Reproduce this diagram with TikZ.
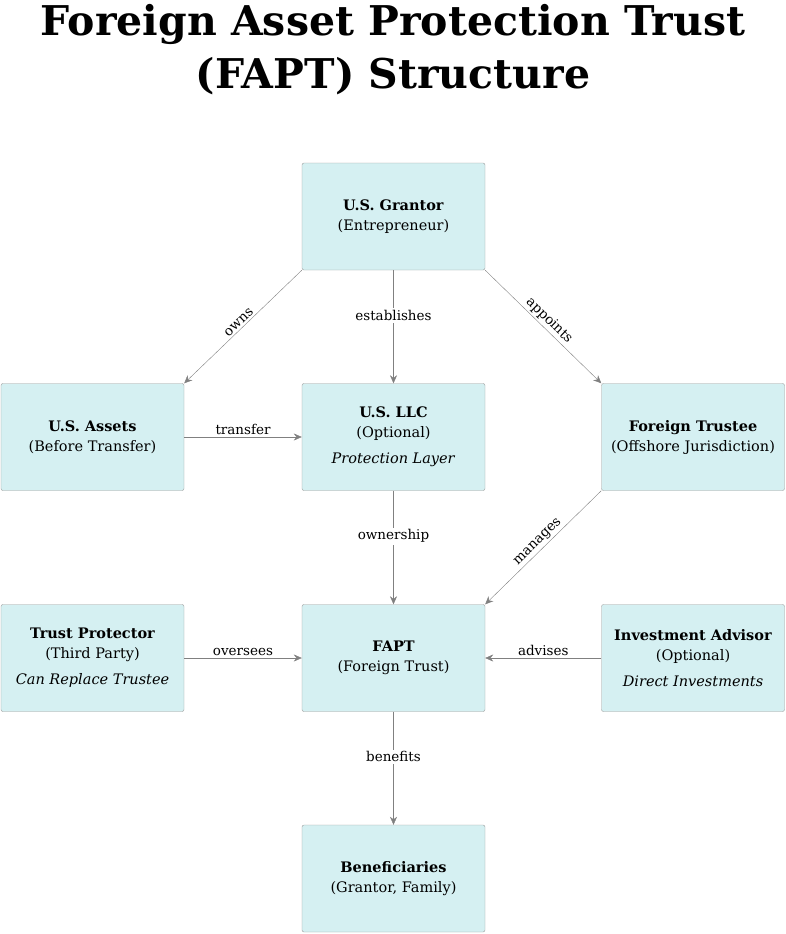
\documentclass[tikz,border=0pt]{standalone}
\usepackage{fontspec}
\setmainfont{DejaVu Serif}
\usetikzlibrary{positioning, arrows.meta}
\definecolor{boxfill}{HTML}{D5F0F2}
\definecolor{boxdraw}{HTML}{9A9A9A}
\definecolor{arrowgray}{HTML}{808080}
\tikzset{
	% entities
	entity/.style={
		draw=boxdraw,
		fill=boxfill,
		rounded corners=2pt,
		minimum width=183pt,
		minimum height=107pt,
		align=center,
		font=\fontsize{14.5}{20}\selectfont,
	},
	% connections
	link/.style={
		draw=arrowgray,
		-{Stealth[length=8pt,width=7pt]},
	},
	link_label/.style={
		fill=white,
		font=\fontsize{13.5}{16}\selectfont,
		inner sep=2pt,
	},
}
\begin{document}
\begin{tikzpicture}[x=1pt, y=-1pt]
	\useasboundingbox (0,0) rectangle (786,934);
	% Title
	\node[font=\fontsize{41}{53}\selectfont\bfseries, align=center] (title) at (393,50)
		{Foreign Asset Protection Trust\\(FAPT) Structure};

	% Entities
	\node[entity] (grantor) at (393.5,216.5) {\textbf{U.S. Grantor}\\(Entrepreneur)};
	\node[entity] (assets) at (92.5,437) {\textbf{U.S. Assets}\\(Before Transfer)};
	\node[entity] (llc) at (393.5,437) {\textbf{U.S. LLC}\\(Optional)\\[6pt]\textit{Protection Layer}};
	\node[entity] (trustee) at (693,437) {\textbf{Foreign Trustee}\\(Offshore Jurisdiction)};
	\node[entity] (protector) at (92.5,658) {\textbf{Trust Protector}\\(Third Party)\\[6pt]\textit{Can Replace Trustee}};
	\node[entity] (fapt) at (393.5,658) {\textbf{FAPT}\\(Foreign Trust)};
	\node[entity] (advisor) at (693,658) {\textbf{Investment Advisor}\\(Optional)\\[6pt]\textit{Direct Investments}};
	\node[entity] (beneficiaries) at (393.5,878.5) {\textbf{Beneficiaries}\\(Grantor, Family)};

	% Connections
	\draw[link] (grantor.south west) -- node[link_label, sloped, above, fill=none] {owns} (assets.north east);
	\draw[link] (grantor) -- node[link_label, pos=0.4] {establishes} (llc);
	\draw[link] (grantor.south east) -- node[link_label, sloped, above, fill=none] {appoints} (trustee.north west);
	\draw[link] (assets) -- node[link_label, above, fill=none] {transfer} (llc);
	\draw[link] (llc) -- node[link_label, pos=0.4] {ownership} (fapt);
	\draw[link] (trustee.south west) -- node[link_label, sloped, above, fill=none] {manages} (fapt.north east);
	\draw[link] (protector) -- node[link_label, above, fill=none] {oversees} (fapt);
	\draw[link] (advisor) -- node[link_label, above, fill=none] {advises} (fapt);
	\draw[link] (fapt) -- node[link_label, pos=0.4] {benefits} (beneficiaries);
\end{tikzpicture}
\end{document}
